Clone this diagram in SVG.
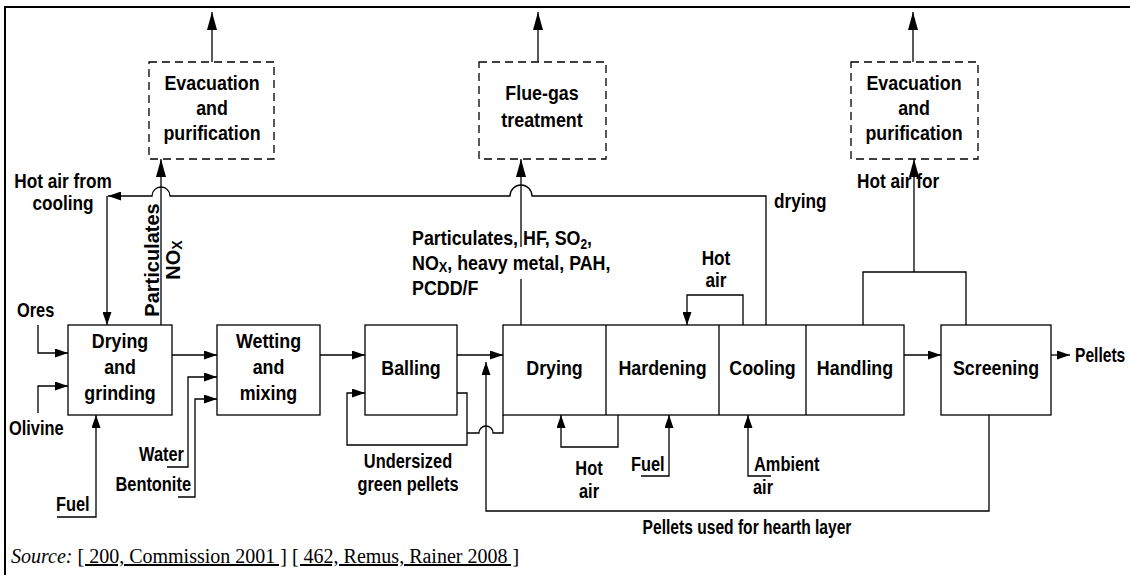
<svg xmlns="http://www.w3.org/2000/svg" width="1130" height="575" viewBox="0 0 1130 575">
<style>
.b{fill:#fff;stroke:#000;stroke-width:1.3}
.d{fill:#fff;stroke:#000;stroke-width:1.3;stroke-dasharray:8 5}
.c{fill:none;stroke:#000;stroke-width:1.3}
.ma{marker-end:url(#a)}
.mb{marker-end:url(#b)}
text{font-family:"Liberation Sans",Arial,Helvetica,sans-serif;font-weight:bold;fill:#000}
.t{font-size:21px}
.s{font-size:20px}
.src{font-family:"Liberation Serif","Times New Roman",serif;font-weight:normal;font-size:20px}
.u{text-decoration:underline}
</style>
<defs>
<marker id="a" markerWidth="13" markerHeight="9" refX="13" refY="4.5" orient="auto" markerUnits="userSpaceOnUse"><path d="M0,0 L13,4.5 L0,9 z" fill="#000"/></marker>
<marker id="b" markerWidth="18" markerHeight="10" refX="18" refY="5" orient="auto" markerUnits="userSpaceOnUse"><path d="M0,0 L18,5 L0,10 z" fill="#000"/></marker>
</defs>
<rect width="1130" height="575" fill="#fff"/>
<path d="M5,575 V7 H1130" fill="none" stroke="#000" stroke-width="2"/>

<g id="connectors">
<path class="c mb" d="M212,62 V12"/>
<path class="c mb" d="M538,62 V12"/>
<path class="c mb" d="M913,62 V12"/>
<path class="c mb" d="M161,325 V159"/>
<path class="c" d="M521,325 V279"/>
<path class="c mb" d="M521,247 V159"/>
<path class="c" d="M863,325 V272 H966 V325"/>
<path class="c mb" d="M914,272 V159"/>
<path class="c ma" d="M766,325 V196 H532 A11,11 0 0 0 510,196 H170 A9,9 0 0 0 152,196 H108"/>
<path class="c ma" d="M107,196 V325"/>
<path class="c ma" d="M38,325 V353 H68"/>
<path class="c ma" d="M38,413 V386 H68"/>
<path class="c ma" d="M57,517 H96 V415"/>
<path class="c ma" d="M172,355 H217"/>
<path class="c ma" d="M167,467 H188 V377 H217"/>
<path class="c ma" d="M178,497 H195 V399 H217"/>
<path class="c ma" d="M320,355 H365"/>
<path class="c ma" d="M457,355 H503"/>
<path class="c ma" d="M457,393 H467 V445 H347 V393 H365"/>
<path class="c" d="M503,415 V433 H493 A7,7 0 0 0 479,433 H467"/>
<path class="c ma" d="M989,415 V511 H486 V362"/>
<path class="c ma" d="M618,415 V447 H561 V415"/>
<path class="c ma" d="M641,476 H669 V415"/>
<path class="c ma" d="M771,476 H748 V415"/>
<path class="c ma" d="M743,325 V295 H687 V325"/>
<path class="c ma" d="M904,355 H941"/>
<path class="c ma" d="M1051,355 H1070"/>
</g>

<g id="evac1">
<rect class="d" x="149" y="62" width="125" height="97"/>
<text class="t" text-anchor="middle" transform="translate(212,90) scale(0.85,1)"><tspan x="0" y="0">Evacuation</tspan><tspan x="0" y="25">and</tspan><tspan x="0" y="50">purification</tspan></text>
</g>
<g id="fluegas">
<rect class="d" x="479" y="62" width="127" height="97"/>
<text class="t" text-anchor="middle" transform="translate(542,100) scale(0.85,1)"><tspan x="0" y="0">Flue-gas</tspan><tspan x="0" y="27">treatment</tspan></text>
</g>
<g id="evac2">
<rect class="d" x="851" y="62" width="127" height="97"/>
<text class="t" text-anchor="middle" transform="translate(914,90) scale(0.85,1)"><tspan x="0" y="0">Evacuation</tspan><tspan x="0" y="25">and</tspan><tspan x="0" y="50">purification</tspan></text>
</g>

<g id="drying-grinding">
<rect class="b" x="68" y="325" width="104" height="90"/>
<text class="t" text-anchor="middle" transform="translate(120,348) scale(0.85,1)"><tspan x="0" y="0">Drying</tspan><tspan x="0" y="26">and</tspan><tspan x="0" y="52">grinding</tspan></text>
</g>
<g id="wetting-mixing">
<rect class="b" x="217" y="325" width="103" height="90"/>
<text class="t" text-anchor="middle" transform="translate(268.5,348) scale(0.85,1)"><tspan x="0" y="0">Wetting</tspan><tspan x="0" y="26">and</tspan><tspan x="0" y="52">mixing</tspan></text>
</g>
<g id="balling">
<rect class="b" x="365" y="325" width="92" height="90"/>
<text class="t" text-anchor="middle" transform="translate(411,375) scale(0.85,1)">Balling</text>
</g>
<g id="induration">
<rect class="b" x="503" y="325" width="401" height="90"/>
<path class="c" d="M606,325 V415 M719,325 V415 M806,325 V415"/>
<text class="t" text-anchor="middle" transform="translate(554.5,375) scale(0.85,1)">Drying</text>
<text class="t" text-anchor="middle" transform="translate(662.5,375) scale(0.85,1)">Hardening</text>
<text class="t" text-anchor="middle" transform="translate(762.5,375) scale(0.85,1)">Cooling</text>
<text class="t" text-anchor="middle" transform="translate(855,375) scale(0.85,1)">Handling</text>
</g>
<g id="screening">
<rect class="b" x="941" y="325" width="110" height="90"/>
<text class="t" text-anchor="middle" transform="translate(996,375) scale(0.85,1)">Screening</text>
</g>

<g id="labels">
<text class="t" text-anchor="middle" transform="translate(63,188) scale(0.82,1)"><tspan x="0" y="0">Hot air from</tspan><tspan x="0" y="22">cooling</tspan></text>
<text class="t" transform="translate(857,188) scale(0.82,1)">Hot air for</text>
<text class="t" transform="translate(774,208) scale(0.82,1)">drying</text>
<text class="s" text-anchor="middle" transform="translate(159,260) rotate(-90)">Particulates</text>
<text class="s" text-anchor="middle" transform="translate(180,260) rotate(-90)">NO<tspan font-size="14" dy="2">X</tspan></text>
<text class="t" transform="translate(412,245) scale(0.85,1)"><tspan x="0" y="0">Particulates, HF, SO</tspan><tspan font-size="14" dy="4">2</tspan><tspan dy="-4">,</tspan><tspan x="0" y="25">NO</tspan><tspan font-size="15" dy="2">X</tspan><tspan dy="-2">, heavy metal, PAH,</tspan><tspan x="0" y="50">PCDD/F</tspan></text>
<text class="t" text-anchor="middle" transform="translate(716,265) scale(0.82,1)"><tspan x="0" y="0">Hot</tspan><tspan x="0" y="22">air</tspan></text>
<text class="s" transform="translate(17,317) scale(0.82,1)">Ores</text>
<text class="s" transform="translate(9,435) scale(0.82,1)">Olivine</text>
<text class="s" text-anchor="end" transform="translate(184,461) scale(0.82,1)">Water</text>
<text class="s" text-anchor="end" transform="translate(191,491) scale(0.82,1)">Bentonite</text>
<text class="s" transform="translate(56,511) scale(0.82,1)">Fuel</text>
<text class="s" text-anchor="middle" transform="translate(408,468) scale(0.82,1)"><tspan x="0" y="0">Undersized</tspan><tspan x="0" y="23">green pellets</tspan></text>
<text class="s" text-anchor="middle" transform="translate(589,475) scale(0.82,1)"><tspan x="0" y="0">Hot</tspan><tspan x="0" y="23">air</tspan></text>
<text class="s" transform="translate(631,471) scale(0.82,1)">Fuel</text>
<text class="s" transform="translate(754,471) scale(0.82,1)">Ambient</text>
<text class="s" transform="translate(753,494) scale(0.82,1)">air</text>
<text class="s" text-anchor="middle" transform="translate(747,534) scale(0.78,1)">Pellets used for hearth layer</text>
<text class="s" transform="translate(1075,362) scale(0.78,1)">Pellets</text>
</g>

<text class="src" x="11" y="563"><tspan font-style="italic">Source:</tspan> <tspan class="u">[ 200, Commission 2001 ]</tspan> <tspan class="u">[ 462, Remus, Rainer 2008 ]</tspan></text>
</svg>
